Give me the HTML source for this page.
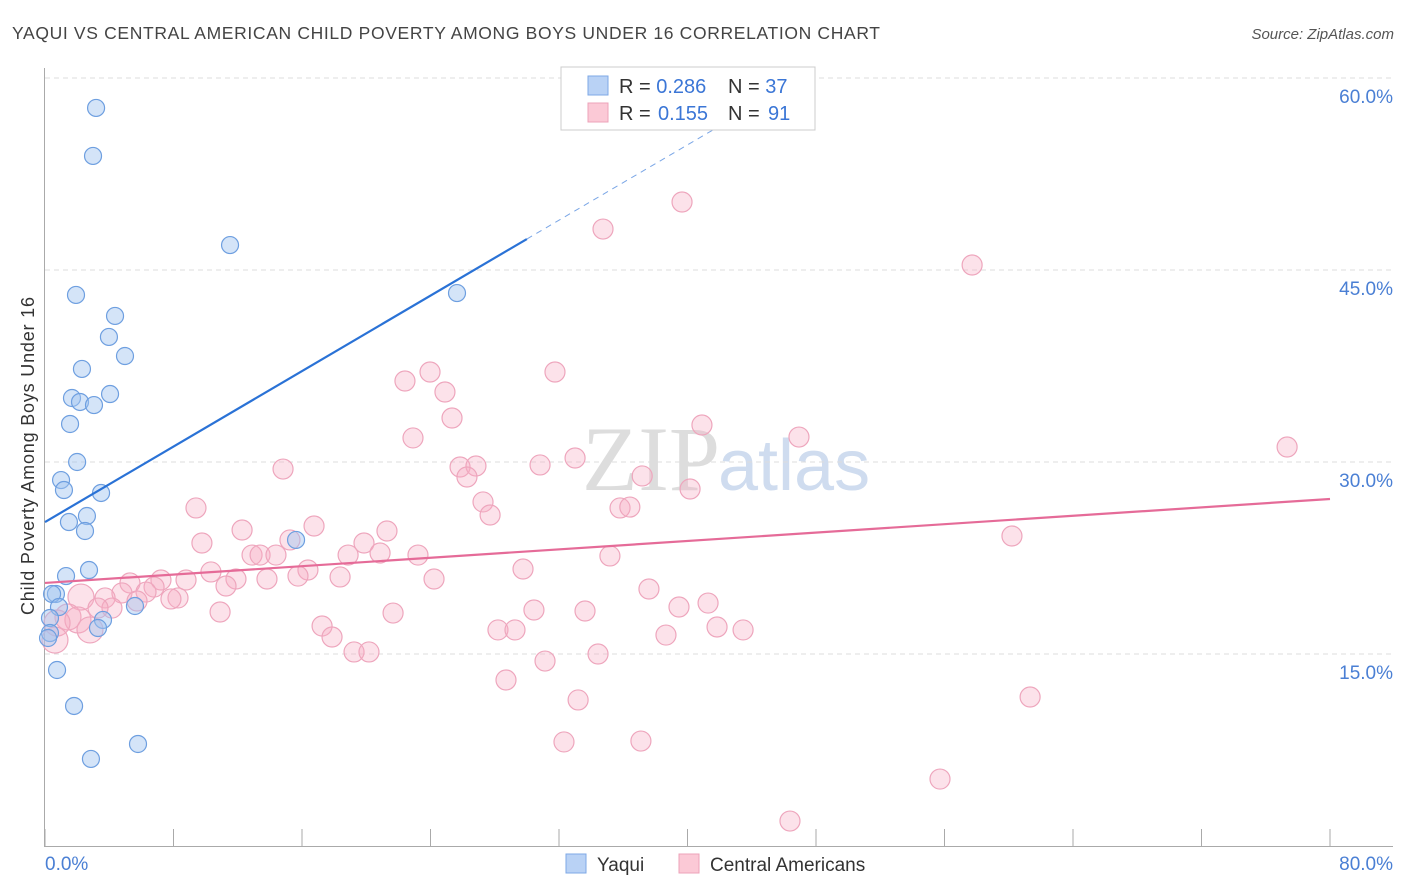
<!DOCTYPE html>
<html><head><meta charset="utf-8"><style>
body{margin:0;background:#fff;font-family:"Liberation Sans",sans-serif;}
svg{display:block}
</style></head><body>
<svg id="c" width="1406" height="892" xmlns="http://www.w3.org/2000/svg">
<text x="12" y="39" font-size="17.5" fill="#444" textLength="868" lengthAdjust="spacing">YAQUI VS CENTRAL AMERICAN CHILD POVERTY AMONG BOYS UNDER 16 CORRELATION CHART</text>
<text x="1394" y="39" font-size="15" fill="#555" font-style="italic" text-anchor="end">Source: ZipAtlas.com</text>
<text x="720" y="490" font-size="92" fill="#ddd" text-anchor="end" font-family="Liberation Serif,serif">ZIP</text>
<text x="718" y="490" font-size="72" fill="#cfdcef">atlas</text>
<g id="grid"></g><g id="axes"></g><g id="marks"></g>
<text transform="translate(34,456) rotate(-90)" font-size="18" fill="#333" text-anchor="middle" textLength="318" lengthAdjust="spacing">Child Poverty Among Boys Under 16</text>
<g>
<rect x="561" y="67" width="254" height="63" fill="#fff" stroke="#ccc"/>
<rect x="588" y="76" width="20" height="19" fill="#b9d2f5" stroke="#7ea8e6"/>
<rect x="588" y="103" width="20" height="19" fill="#fbc9d6" stroke="#eca3b9"/>
<text x="619" y="93" font-size="20" fill="#333">R = <tspan fill="#3b76d6">0.286</tspan><tspan x="728">N = </tspan><tspan fill="#3b76d6">37</tspan></text>
<text x="619" y="120" font-size="20" fill="#333">R = <tspan x="658" fill="#3b76d6">0.155</tspan><tspan x="728">N = </tspan><tspan x="768" fill="#3b76d6">91</tspan></text>
</g>
<g>
<rect x="566" y="854" width="20" height="19" fill="#b9d2f5" stroke="#7ea8e6"/>
<text x="597" y="871" font-size="19" fill="#333">Yaqui</text>
<rect x="679" y="854" width="20" height="19" fill="#fbc9d6" stroke="#eca3b9"/>
<text x="710" y="871" font-size="19" fill="#333">Central Americans</text>
</g>
</svg>
<script>
const yTicks=[15,30,45,60];
const yTickLabels=["15.0%","30.0%","45.0%","60.0%"];
const xTicks=[0,8,16,24,32,40,48,56,64,72,80];
const yaquiX=[3.18,2.99,11.52,1.93,25.65,4.36,3.98,4.98,2.30,1.68,2.18,3.05,4.05,1.56,2.0,1.0,1.18,3.49,2.61,1.49,2.49,15.63,2.74,1.31,0.68,0.44,0.87,3.61,3.30,5.60,0.31,0.31,0.19,0.75,1.81,5.79,2.86];
const yaquiY=[57.66,53.91,46.95,43.05,43.20,41.41,39.77,38.28,37.27,35.0,34.69,34.45,35.31,32.97,30.0,28.59,27.81,27.58,25.78,25.31,24.61,23.91,21.56,21.09,19.69,19.69,18.67,17.66,17.03,18.75,17.81,16.64,16.25,13.75,10.94,7.97,6.80];
const caX=[39.66,34.74,57.72,77.33,23.97,22.41,31.75,24.9,25.34,22.91,40.9,46.94,33.0,25.84,26.83,30.82,14.82,37.18,26.27,40.16,27.27,27.71,35.8,36.41,9.40,12.27,16.75,21.29,60.2,15.25,9.77,19.86,18.87,12.89,13.39,14.38,20.86,23.22,35.17,29.76,16.37,10.33,15.75,18.37,24.22,11.89,13.82,8.78,7.22,5.29,11.27,6.79,37.6,6.29,4.79,2.24,3.74,8.28,7.84,5.73,41.28,39.47,30.44,33.62,21.67,10.9,4.17,3.3,1.43,2.05,0.75,17.25,41.84,28.2,29.26,43.46,2.80,17.87,38.66,0.62,19.24,20.17,34.43,31.13,61.33,28.7,33.19,32.31,37.1,55.72,46.38];
const caY=[50.31,48.20,45.39,31.17,37.03,36.33,37.03,35.47,33.44,31.88,32.89,31.95,30.31,29.61,29.69,29.77,29.45,28.91,28.83,27.89,26.88,25.86,26.41,26.48,26.41,24.69,25.0,24.61,24.22,23.91,23.67,23.67,22.73,22.73,22.73,22.73,22.89,22.73,22.66,21.64,21.56,21.41,21.09,21.02,20.86,20.86,20.86,20.78,20.78,20.55,20.31,20.23,20.08,19.84,19.77,19.45,19.38,19.38,19.30,19.14,18.98,18.67,18.44,18.36,18.20,18.28,18.59,18.59,17.89,17.66,17.42,17.19,17.11,16.88,16.88,16.88,16.88,16.33,16.48,16.09,15.16,15.16,15.0,14.45,11.64,12.97,11.41,8.13,8.20,5.23,1.95];
const yaquiTrend=[25.31,47.42,58.6];
const yaquiTrendX=[0,30,45.2];
const caTrend=[20.55,27.11];
const caTrendX=[0,80];
const X=v=>45+v*1285/80, Y=v=>846-v*192/15;
const NS="http://www.w3.org/2000/svg";
function mk(p,t,a){const e=document.createElementNS(NS,t);for(const k in a)e.setAttribute(k,a[k]);p.appendChild(e);return e;}
const g=document.getElementById('grid'),ax=document.getElementById('axes'),m=document.getElementById('marks');
yTicks.forEach((t,i)=>{
 const l=mk(g,'line',{x1:45,x2:1393,y1:Y(t),y2:Y(t),stroke:'#ddd','stroke-dasharray':'5,4'});
 
 
 const tx=mk(ax,'text',{x:1393,y:Y(t)+25,'font-size':19,fill:'#4a7fd4','text-anchor':'end'});
 tx.textContent=yTickLabels[i];
 
 
});
mk(g,'line',{x1:45,x2:1393,y1:78,y2:78,stroke:'#ddd','stroke-dasharray':'5,4'});
mk(ax,'line',{x1:44.5,x2:44.5,y1:68,y2:846,stroke:'#aaa'});
mk(ax,'line',{x1:44,x2:1393,y1:846.5,y2:846.5,stroke:'#aaa'});
xTicks.forEach(t=>{const l=mk(ax,'line',{x1:X(t),x2:X(t),y1:829,y2:846,stroke:'#aaa'});
 
 });
let t0=mk(ax,'text',{x:45,y:870,'font-size':19,fill:'#4a7fd4'});t0.textContent='0.0%';
let t1=mk(ax,'text',{x:1393,y:870,'font-size':19,fill:'#4a7fd4','text-anchor':'end'});t1.textContent='80.0%';
caX.forEach((v,i)=>{
 const big=(v<3&&caY[i]<20)?13:10;
 const c=mk(m,'circle',{cx:X(v),cy:Y(caY[i]),r:big,fill:'rgba(246,172,196,0.35)',stroke:'#eea6bd','stroke-width':1.2});
 
 
});
yaquiX.forEach((v,i)=>{
 const c=mk(m,'circle',{cx:X(v),cy:Y(yaquiY[i]),r:8.5,fill:'rgba(160,196,240,0.45)',stroke:'#6e9fe0','stroke-width':1.2});
 
 
});
let l1=mk(m,'line',{x1:X(yaquiTrendX[0]),y1:Y(yaquiTrend[0]),x2:X(yaquiTrendX[1]),y2:Y(yaquiTrend[1]),stroke:'#2a72d6','stroke-width':2.2});


let l2=mk(m,'line',{x1:X(yaquiTrendX[1]),y1:Y(yaquiTrend[1]),x2:X(yaquiTrendX[2]),y2:Y(yaquiTrend[2]),stroke:'#7aa6e6','stroke-width':1,'stroke-dasharray':'6,5'});


let l3=mk(m,'line',{x1:X(caTrendX[0]),y1:Y(caTrend[0]),x2:X(caTrendX[1]),y2:Y(caTrend[1]),stroke:'#e56b98','stroke-width':2.2});


</script>
</body></html>
